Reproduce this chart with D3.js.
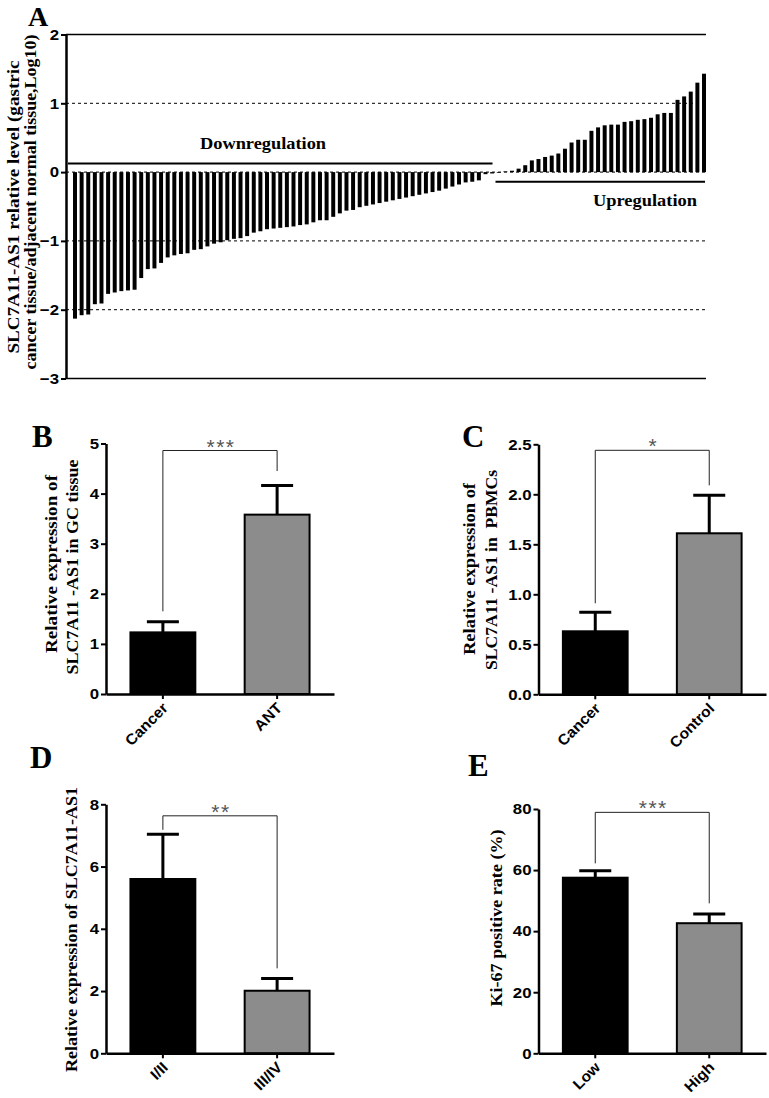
<!DOCTYPE html>
<html><head><meta charset="utf-8">
<script src="https://cdn.jsdelivr.net/npm/d3@7"></script>
<style>body{margin:0;background:#fff}svg{display:block}</style>
</head><body>
<svg id="fig" width="769" height="1098"></svg>
<script>
// ---------------- Panel A data ----------------
const aDown = [-2.13,-2.08,-2.07,-1.92,-1.91,-1.77,-1.75,-1.73,-1.72,-1.71,
  -1.54,-1.41,-1.40,-1.32,-1.24,-1.21,-1.19,-1.18,-1.13,-1.12,
  -1.08,-1.04,-1.02,-0.99,-0.97,-0.96,-0.93,-0.88,-0.86,-0.83,
  -0.82,-0.81,-0.80,-0.79,-0.77,-0.76,-0.73,-0.70,-0.70,-0.65,
  -0.60,-0.56,-0.55,-0.51,-0.49,-0.47,-0.45,-0.43,-0.41,-0.39,
  -0.37,-0.35,-0.33,-0.31,-0.29,-0.27,-0.24,-0.21,-0.18,-0.15,
  -0.14,-0.12];
const aNearZero = [-0.03,-0.02,-0.01,0.01,0.02];
const aUp = [0.05,0.10,0.17,0.19,0.22,0.24,0.27,0.34,0.43,0.47,0.47,0.60,0.65,0.68,0.69,0.69,
  0.73,0.74,0.76,0.77,0.79,0.84,0.86,0.86,1.05,1.10,1.17,1.30,1.43];
const aTicks = [2,1,0,-1,-2,-3];
const aSolid = [2,-3];
const aDashed = [1,0,-1,-2];
const aTitle = ["SLC7A11-AS1 relative level (gastric","cancer tissue/adjacent normal tissue,Log10)"];
const aDownLabel = "Downregulation", aUpLabel = "Upregulation";
const aDownLineY = 0.125, aUpLineY = -0.14;

// ---------------- Panel B ----------------
const bCats = ["Cancer","ANT"];
const bMeans = [1.23, 3.58];
const bErrs = [0.21, 0.58];
const bTicks = [0,1,2,3,4,5];
const bBracket = [4.86, 1.65, 4.45];   // bracket level, left end, right end
const bSig = "***";
const bTitle = ["Relative expression of","SLC7A11 -AS1 in GC tissue"];

// ---------------- Panel C ----------------
const cCats = ["Cancer","Control"];
const cMeans = [0.63, 1.61];
const cErrs = [0.19, 0.38];
const cTicks = [0,0.5,1.0,1.5,2.0,2.5];
const cBracket = [2.44, 0.91, 2.09];
const cSig = "*";
const cTitle = ["Relative expression of","SLC7A11 -AS1 in  PBMCs"];

// ---------------- Panel D ----------------
const dCats = ["I/II","III/IV"];
const dMeans = [5.6, 2.01];
const dErrs = [1.44, 0.39];
const dTicks = [0,2,4,6,8];
const dBracket = [7.63, 7.18, 2.73];
const dSig = "**";
const dTitle = ["Relative expression of SLC7A11-AS1"];

// ---------------- Panel E ----------------
const eCats = ["Low","High"];
const eMeans = [57.5, 42.6];
const eErrs = [2.3, 3.0];
const eTicks = [0,20,40,60,80];
const eBracket = [78.9, 62.2, 49.1];
const eSig = "***";
const eTitle = ["Ki-67 positive rate (%)"];

const fills = ["#000000","#8c8c8c"];
const SERIF = "'Liberation Serif','Times New Roman',serif";
const SANS = "'Liberation Sans',Arial,sans-serif";

const svg = d3.select("#fig");

function setLen(sel, L){ sel.attr("textLength", L).attr("lengthAdjust","spacingAndGlyphs"); }
function stretch(sel, k){ sel.each(function(){ const l=this.getComputedTextLength(); this.setAttribute("textLength", l*k); this.setAttribute("lengthAdjust","spacingAndGlyphs"); }); }

function letter(t, x, y, fs){
  svg.append("text").attr("x",x).attr("y",y).text(t)
    .attr("font-family",SERIF).attr("font-weight","bold").attr("font-size",fs||31);
}

function ytitle(lines, specs){
  lines.forEach((t,i)=>{
    const s = specs[i];
    const tx = svg.append("text")
      .attr("transform",`translate(${s.x},${s.cy}) rotate(-90)`)
      .attr("text-anchor","middle")
      .attr("font-family",SERIF).attr("font-weight","bold").attr("font-size",16)
      .style("white-space","pre")
      .text(t);
    setLen(tx, s.len);
  });
}

function styleTicks(sel){
  sel.attr("font-family",SANS).attr("font-weight","bold").attr("font-size",15).attr("fill","#000").attr("x",-7).call(stretch,1.12);
}

// ---------------- Draw Panel A ----------------
(function(){
  const vals = aDown.concat(aNearZero, aUp);
  const idx = d3.range(vals.length);
  const x = d3.scalePoint().domain(idx).range([75, 704]);
  const bw = x.step()*0.6;
  const y = d3.scaleLinear().domain([-3,2]).range([378.5, 34.5]);
  const g = svg.append("g");
  g.selectAll(".dl").data(aDashed).join("line")
    .attr("x1",66).attr("x2",706).attr("y1",d=>y(d)).attr("y2",d=>y(d))
    .attr("stroke","#000").attr("stroke-width",1).attr("stroke-dasharray","3,3");
  g.selectAll(".sl").data(aSolid).join("line")
    .attr("x1",66).attr("x2",706).attr("y1",d=>y(d)).attr("y2",d=>y(d))
    .attr("stroke","#000").attr("stroke-width",1.5);
  g.selectAll(".bar").data(vals).join("rect")
    .attr("x",(d,i)=>x(i)-bw/2).attr("width",bw)
    .attr("y",d=>y(Math.max(0,d))).attr("height",d=>Math.abs(y(d)-y(0)))
    .attr("fill","#000");
  const ax = g.append("g").attr("transform","translate(66,0)")
    .call(d3.axisLeft(y).tickValues(aTicks).tickSize(5).tickSizeOuter(0).tickFormat(d3.format("d")));
  ax.select(".domain").attr("stroke-width",2.5);
  ax.selectAll(".tick line").attr("stroke-width",2);
  ax.selectAll(".tick text").call(styleTicks);
  const nD = aDown.length;
  g.append("line").attr("x1",x(0)-7).attr("x2",x(nD)+7).attr("y1",y(aDownLineY)).attr("y2",y(aDownLineY)).attr("stroke","#000").attr("stroke-width",2);
  g.append("line").attr("x1",x(nD)+10).attr("x2",x(vals.length-1)+1).attr("y1",y(aUpLineY)).attr("y2",y(aUpLineY)).attr("stroke","#000").attr("stroke-width",2);
  const t1 = g.append("text").attr("x",263).attr("y",y(aDownLineY)-15).attr("text-anchor","middle")
    .attr("font-family",SERIF).attr("font-weight","bold").attr("font-size",16).text(aDownLabel);
  setLen(t1,126);
  const t2 = g.append("text").attr("x",645).attr("y",y(aUpLineY)+24).attr("text-anchor","middle")
    .attr("font-family",SERIF).attr("font-weight","bold").attr("font-size",16).text(aUpLabel);
  setLen(t2,104);
  ytitle(aTitle, [{x:19, cy:207, len:293},{x:36, cy:202, len:335}]);
  letter("A", 28, 26, 28);
})();

// ---------------- Generic bar panel ----------------
function barPanel(cats, means, errs, ticks, bracket, sig, fmt, ax0, xEnd, yBottom, yTop){
  const x = d3.scaleBand().domain(cats).range([ax0, xEnd]).paddingInner(0.432).paddingOuter(0.214);
  const y = d3.scaleLinear().domain([0, d3.max(ticks)]).range([yBottom, yTop]);
  const g = svg.append("g");
  const bw = x.bandwidth();
  g.selectAll(".bar").data(means).join("rect")
    .attr("x",(d,i)=>x(cats[i])).attr("width",bw)
    .attr("y",d=>y(d)).attr("height",d=>y(0)-y(d))
    .attr("fill",(d,i)=>fills[i]).attr("stroke","#000").attr("stroke-width",2);
  const cx = i => x(cats[i]) + bw/2;
  g.selectAll(".eb").data(means).join("line")
    .attr("x1",(d,i)=>cx(i)).attr("x2",(d,i)=>cx(i))
    .attr("y1",d=>y(d)).attr("y2",(d,i)=>y(d+errs[i]))
    .attr("stroke","#000").attr("stroke-width",3);
  g.selectAll(".cap").data(means).join("line")
    .attr("x1",(d,i)=>cx(i)-16).attr("x2",(d,i)=>cx(i)+16)
    .attr("y1",(d,i)=>y(d+errs[i])).attr("y2",(d,i)=>y(d+errs[i]))
    .attr("stroke","#000").attr("stroke-width",3);
  g.append("path")
    .attr("d",`M${cx(0)},${y(bracket[1])}V${y(bracket[0])}H${cx(1)}V${y(bracket[2])}`)
    .attr("fill","none").attr("stroke","#222").attr("stroke-width",1);
  g.append("text").attr("x",(cx(0)+cx(1))/2+1).attr("y",y(bracket[0])+3)
    .attr("text-anchor","middle").attr("font-family",SANS).attr("font-size",21)
    .attr("letter-spacing",1.5).attr("fill","#555").text(sig);
  const ya = g.append("g").attr("transform",`translate(${ax0},0)`)
    .call(d3.axisLeft(y).tickValues(ticks).tickSize(5).tickSizeOuter(0).tickFormat(fmt));
  ya.select(".domain").attr("stroke-width",2.5);
  ya.selectAll(".tick line").attr("stroke-width",2);
  ya.selectAll(".tick text").call(styleTicks);
  const xa = g.append("g").attr("transform",`translate(0,${yBottom})`)
    .call(d3.axisBottom(x).tickSize(5).tickSizeOuter(0));
  xa.select(".domain").attr("stroke-width",2.5);
  xa.selectAll(".tick line").attr("stroke-width",2);
  xa.selectAll(".tick text").attr("font-family",SANS).attr("font-weight","bold").attr("font-size",15).attr("fill","#000")
    .attr("text-anchor","end").attr("y",0).attr("dy",0)
    .attr("transform","translate(6,15) rotate(-45)").call(stretch,1.05);
  return {x,y};
}

barPanel(bCats,bMeans,bErrs,bTicks,bBracket,bSig,d3.format("d"),106,334,694,443.5);
ytitle(bTitle,[{x:57,cy:564,len:178},{x:78,cy:567,len:215}]);
letter("B",32,447);

barPanel(cCats,cMeans,cErrs,cTicks,cBracket,cSig,d3.format(".1f"),538.5,766,694.3,444.3);
ytitle(cTitle,[{x:475,cy:569,len:172},{x:497,cy:570,len:200}]);
letter("C",462,447);

barPanel(dCats,dMeans,dErrs,dTicks,dBracket,dSig,d3.format("d"),106,334,1053.3,804.3);
ytitle(dTitle,[{x:77,cy:929.5,len:285}]);
letter("D",30,768);

barPanel(eCats,eMeans,eErrs,eTicks,eBracket,eSig,d3.format("d"),538.5,766,1053.3,809);
ytitle(eTitle,[{x:502,cy:918,len:177}]);
letter("E",468,776);
</script>
</body></html>
